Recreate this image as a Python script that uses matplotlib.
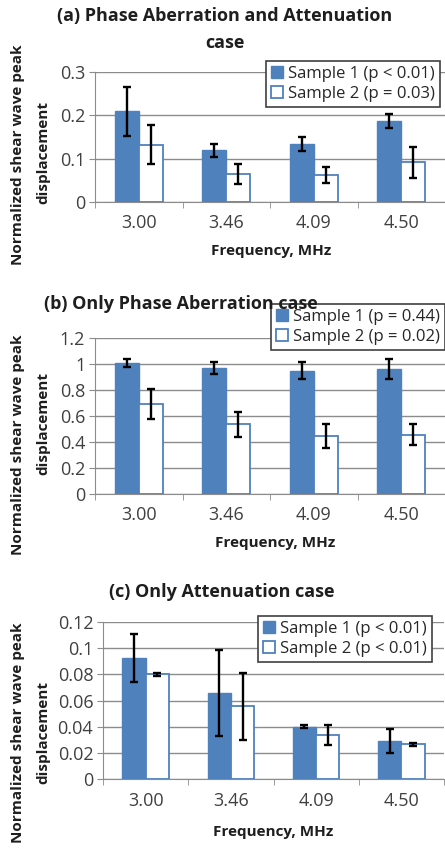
import numpy as np
import matplotlib
matplotlib.use('Agg')
import matplotlib.pyplot as plt
from matplotlib.patches import Patch

plt.rcParams['font.family'] = ['Open Sans', 'DejaVu Sans']

freqs = ['3.00', '3.46', '4.09', '4.50']

a_s1 = [0.209, 0.119, 0.133, 0.186]
a_s1_err = [0.057, 0.014, 0.016, 0.016]
a_s2 = [0.132, 0.065, 0.062, 0.092]
a_s2_err = [0.045, 0.023, 0.018, 0.036]

b_s1 = [1.01, 0.97, 0.95, 0.96]
b_s1_err = [0.03, 0.045, 0.063, 0.075]
b_s2 = [0.69, 0.535, 0.445, 0.455]
b_s2_err = [0.115, 0.095, 0.09, 0.08]

c_s1 = [0.0925, 0.0655, 0.040, 0.029]
c_s1_err = [0.018, 0.033, 0.0012, 0.0095]
c_s2 = [0.080, 0.0555, 0.0335, 0.0265]
c_s2_err = [0.0012, 0.0255, 0.0075, 0.0013]

a_labels = ['Sample 1 (p < 0.01)', 'Sample 2 (p = 0.03)']
b_labels = ['Sample 1 (p = 0.44)', 'Sample 2 (p = 0.02)']
c_labels = ['Sample 1 (p < 0.01)', 'Sample 2 (p < 0.01)']

BLUE = '#4F81BD'
GRID = '#8C8C8C'
TXT = '#1e1e1e'
W, H = 445, 848


def fx(px):
    return px / W


def fy(py):
    return 1 - py / H


def panel(fig, rect, s1, e1, s2, e2, yticks, ylabels, labels, leg):
    ax = fig.add_axes(rect)
    x = np.arange(len(freqs))
    bw = 0.274
    ax.bar(x - bw / 2, s1, bw, color=BLUE, edgecolor=BLUE, zorder=3)
    ax.bar(x + bw / 2, s2, bw, color='white', edgecolor=BLUE, linewidth=1.3, zorder=3)
    ax.errorbar(x - bw / 2, s1, yerr=e1, fmt='none', ecolor='black',
                elinewidth=1.7, capsize=3.2, capthick=1.7, zorder=4)
    ax.errorbar(x + bw / 2, s2, yerr=e2, fmt='none', ecolor='black',
                elinewidth=1.7, capsize=3.2, capthick=1.7, zorder=4)
    ax.set_xlim(-0.5, len(freqs) - 0.5)
    ax.set_ylim(yticks[0], yticks[-1])
    ax.set_yticks(yticks)
    ax.set_yticklabels(ylabels, fontsize=13, color='#404040')
    ax.set_xticks(x)
    ax.set_xticklabels(freqs, fontsize=13, color='#404040')
    ax.set_xticks(np.arange(len(freqs) + 1) - 0.5, minor=True)
    ax.tick_params(axis='x', which='major', length=0, pad=9)
    ax.tick_params(axis='x', which='minor', length=4, color=GRID)
    ax.tick_params(axis='y', length=4, color=GRID, pad=3)
    ax.yaxis.grid(True, color=GRID, linewidth=1)
    ax.set_axisbelow(True)
    for s in ['top', 'right']:
        ax.spines[s].set_visible(False)
    for s in ['left', 'bottom']:
        ax.spines[s].set_color(GRID)
    handles = [Patch(facecolor=BLUE, edgecolor=BLUE),
               Patch(facecolor='white', edgecolor=BLUE, linewidth=1.3)]
    lg = fig.legend(handles, labels, loc='upper right', bbox_to_anchor=leg,
                    bbox_transform=fig.transFigure, fontsize=12,
                    fancybox=False, edgecolor='#404040', framealpha=1,
                    handlelength=0.75, handleheight=0.75, handletextpad=0.3,
                    borderpad=0.3, labelspacing=0.22, borderaxespad=0)
    lg.get_frame().set_linewidth(1.2)
    lg.set_zorder(2)
    for t in lg.get_texts():
        t.set_color('#262626')
    return ax


def label(xc, yc, text, size=11, rot=0):
    fig.text(fx(xc), fy(yc), text, rotation=rot, ha='center', va='center',
             fontsize=size, fontweight='bold', color=TXT, zorder=10)


fig = plt.figure(figsize=(4.45, 8.48), dpi=100)

# (a)
panel(fig, [fx(95), fy(202), fx(350), fy(72) - fy(202)],
      a_s1, a_s1_err, a_s2, a_s2_err,
      [0, 0.1, 0.2, 0.3], ['0', '0.1', '0.2', '0.3'], a_labels,
      (fx(440), fy(61)))
label(225, 16, '(a) Phase Aberration and Attenuation', 13)
label(225, 43, 'case', 13)
label(18, 155, 'Normalized shear wave peak', rot=90)
label(43, 153, 'displacement', rot=90)
label(271, 251, 'Frequency, MHz')

# (b)
panel(fig, [fx(95), fy(494), fx(350), fy(338) - fy(494)],
      b_s1, b_s1_err, b_s2, b_s2_err,
      [0, 0.2, 0.4, 0.6, 0.8, 1.0, 1.2],
      ['0', '0.2', '0.4', '0.6', '0.8', '1', '1.2'], b_labels,
      (fx(445), fy(304)))
label(181, 304, '(b) Only Phase Aberration case', 13)
label(18, 445, 'Normalized shear wave peak', rot=90)
label(43, 423, 'displacement', rot=90)
label(275, 543, 'Frequency, MHz')

# (c)
panel(fig, [fx(103), fy(779), fx(341), fy(622) - fy(779)],
      c_s1, c_s1_err, c_s2, c_s2_err,
      [0, 0.02, 0.04, 0.06, 0.08, 0.10, 0.12],
      ['0', '0.02', '0.04', '0.06', '0.08', '0.1', '0.12'], c_labels,
      (fx(432), fy(616)))
label(222, 592, '(c) Only Attenuation case', 13)
label(18, 733, 'Normalized shear wave peak', rot=90)
label(43, 732, 'displacement', rot=90)
label(273, 832, 'Frequency, MHz')

fig.savefig('out.png', dpi=100, facecolor='white')
